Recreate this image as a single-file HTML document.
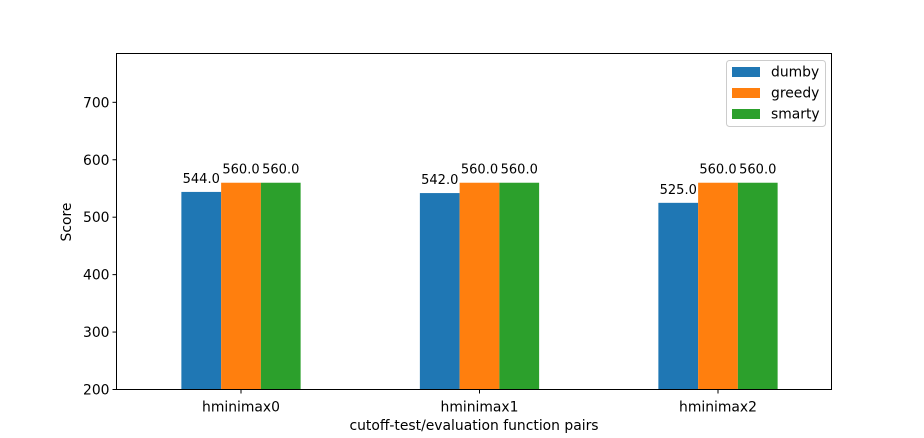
<!DOCTYPE html>
<html><head><meta charset="utf-8"><style>
body{margin:0;background:#fff;}
svg{display:block;font-family:"DejaVu Sans","Liberation Sans",sans-serif;}
</style></head><body>
<svg id="chart" width="924" height="438" viewBox="0 0 924 438">
<rect x="0" y="0" width="924" height="438" fill="#fff"/>
<g id="bars"></g>
<g id="yaxis"></g>
<g id="xaxis"></g>
<rect x="116.5" y="53.5" width="715" height="336" fill="none" stroke="#000" stroke-width="1"/>
<text x="474" y="430" font-size="13.9" text-anchor="middle">cutoff-test/evaluation function pairs</text>
<text transform="translate(71,222) rotate(-90)" font-size="13.9" text-anchor="middle">Score</text>
<g id="legend"></g>
</svg>
<script>
const categories = ["hminimax0","hminimax1","hminimax2"];
const seriesNames = ["dumby","greedy","smarty"];
const dumby = [544, 542, 525];
const greedy = [560, 560, 560];
const smarty = [560, 560, 560];
const yTicks = [200,300,400,500,600,700];
const colors = ["#1f77b4","#ff7f0e","#2ca02c"];
const series = [dumby, greedy, smarty];

const NS="http://www.w3.org/2000/svg";
const X0=116.5, X1=831.5, Y0=389.5, Y1=53.5;
const yMin=200, yMax=785;
const FS=13.9;
const xScale = v => 241 + v*238.5;
const yScale = v => Y0 - (v-yMin)/(yMax-yMin)*(Y0-Y1);
function mk(tag, attrs, parent){const e=document.createElementNS(NS,tag);for(const k in attrs)e.setAttribute(k,attrs[k]);parent.appendChild(e);return e;}
const bars=document.getElementById('bars');
const bw=0.5/3;
series.forEach((vals,si)=>{
  vals.forEach((v,ci)=>{
    const xl=xScale(ci-0.25+si*bw), xr=xScale(ci-0.25+(si+1)*bw);
    const r=mk('rect',{x:xl,y:yScale(v),width:xr-xl,height:Y0-yScale(v),fill:colors[si]},bars);
    
    
    const t=mk('text',{x:(xl+xr)/2,y:yScale(v)-9,'font-size':13,'text-anchor':'middle'},bars);
    t.textContent=v.toFixed(1);
    
    
  });
});
const ya=document.getElementById('yaxis');
yTicks.forEach(v=>{
  const y=yScale(v);
  const l=mk('line',{x1:X0-4,x2:X0,y1:y,y2:y,stroke:'#000'},ya);
  
  
  const t=mk('text',{x:X0-7,y:y+5,'font-size':FS,'text-anchor':'end'},ya);
  t.textContent=v;
  
  
});
const xa=document.getElementById('xaxis');
categories.forEach((c,i)=>{
  const x=xScale(i);
  const l=mk('line',{x1:x,x2:x,y1:Y0,y2:Y0+4,stroke:'#000'},xa);
  
  
  const t=mk('text',{x:x,y:Y0+22,'font-size':FS,'text-anchor':'middle'},xa);
  t.textContent=c;
  
  
});
const lg=document.getElementById('legend');
const box=mk('rect',{x:726.5,y:60.5,width:99,height:66,rx:3,fill:'#fff',stroke:'#ccc'},lg);


seriesNames.forEach((n,i)=>{
  const y=71+i*21;
  const r=mk('rect',{x:732,y:y-4,width:28,height:10,fill:colors[i]},lg);
  
  
  const t=mk('text',{x:771,y:y+5.5,'font-size':FS},lg);
  t.textContent=n;
  
  
});
</script>
</body></html>
